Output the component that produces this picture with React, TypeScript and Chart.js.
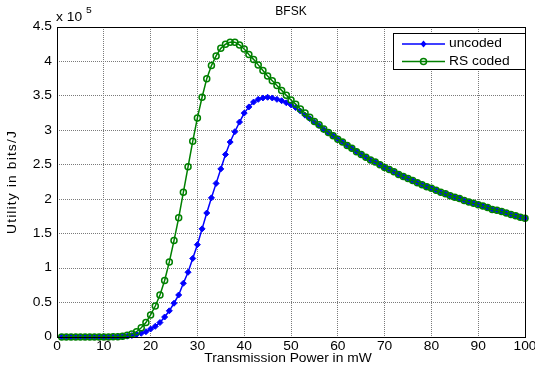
import React, { useEffect, useRef } from "react";
import { Chart, registerables } from "chart.js";

Chart.register(...registerables);

// Transmission power in mW (x categories)
const power: number[] = Array.from({ length: 100 }, (_, i) => i + 1);

// Utility (x 10^5 bits/J)
const uncoded: number[] = [
  0, 0, 0, 0, 0, 0, 0, 0, 0, 0,
  0, 0.001, 0.002, 0.005, 0.012, 0.022, 0.035, 0.054, 0.077, 0.116,
  0.155, 0.21, 0.29, 0.38, 0.49, 0.61, 0.78, 0.94, 1.14, 1.34,
  1.57, 1.8, 2.02, 2.23, 2.44, 2.65, 2.83, 2.98, 3.12, 3.25,
  3.34, 3.41, 3.45, 3.47, 3.48, 3.47, 3.45, 3.43, 3.4, 3.37,
  3.33, 3.28, 3.22, 3.17, 3.12, 3.07, 3.01, 2.96, 2.92, 2.87,
  2.83, 2.78, 2.74, 2.69, 2.65, 2.61, 2.57, 2.54, 2.5, 2.46,
  2.43, 2.4, 2.36, 2.33, 2.3, 2.27, 2.24, 2.21, 2.18, 2.16,
  2.13, 2.1, 2.08, 2.05, 2.03, 2.01, 1.98, 1.96, 1.94, 1.92,
  1.9, 1.88, 1.85, 1.84, 1.82, 1.8, 1.78, 1.76, 1.74, 1.725,
];

const rsCoded: number[] = [
  0, 0, 0, 0, 0, 0, 0, 0, 0, 0,
  0.001, 0.002, 0.005, 0.012, 0.025, 0.045, 0.077, 0.135, 0.21, 0.32,
  0.45, 0.61, 0.82, 1.09, 1.4, 1.73, 2.1, 2.47, 2.84, 3.18,
  3.48, 3.75, 3.94, 4.08, 4.19, 4.25, 4.28, 4.28, 4.24, 4.18,
  4.1, 4.03, 3.95, 3.87, 3.79, 3.72, 3.65, 3.58, 3.51, 3.44,
  3.38, 3.31, 3.25, 3.19, 3.13, 3.08, 3.02, 2.97, 2.92, 2.87,
  2.83, 2.78, 2.74, 2.69, 2.65, 2.61, 2.57, 2.54, 2.5, 2.46,
  2.43, 2.4, 2.36, 2.33, 2.3, 2.27, 2.24, 2.21, 2.18, 2.16,
  2.13, 2.1, 2.08, 2.05, 2.03, 2.01, 1.98, 1.96, 1.94, 1.92,
  1.9, 1.88, 1.85, 1.84, 1.82, 1.8, 1.78, 1.76, 1.74, 1.725,
];

const xTicks: number[] = [0, 10, 20, 30, 40, 50, 60, 70, 80, 90, 100];
const yTicks: number[] = [0, 0.5, 1, 1.5, 2, 2.5, 3, 3.5, 4, 4.5];
const seriesNames: string[] = ["uncoded", "RS coded"];
const titleText = "BFSK";
const xTitle = "Transmission Power in mW";
const yTitle = "Utility in bits/J";

const FONT = "Liberation Sans, Arial, Helvetica, sans-serif";
const BLUE = "#0000ff";
const GREEN = "#008000";
const SX = 1.15; // horizontal text stretch seen in the reference

function drawText(ctx: any, s: string, x: number, y: number, align: string, size: number, sx = SX, rot = 0, spacing = "0px") {
  ctx.save();
  ctx.translate(x, y);
  if (rot) ctx.rotate(rot);
  ctx.scale(sx, 1);
  ctx.font = `${size}px ${FONT}`;
  try { ctx.letterSpacing = spacing; } catch (e) {}
  ctx.textAlign = align;
  ctx.textBaseline = "middle";
  ctx.fillStyle = "#000";
  ctx.fillText(s, 0, 0);
  ctx.restore();
}

const decorPlugin = {
  id: "decor",
  afterDraw(chart: any) {
    const { ctx, chartArea, scales } = chart;
    const { left, right, top, bottom } = chartArea;
    ctx.save();
    // box
    ctx.strokeStyle = "#000";
    ctx.lineWidth = 1;
    ctx.strokeRect(Math.round(left) + 0.5, Math.round(top) + 0.5, Math.round(right - left), Math.round(bottom - top));

    // tick labels
    for (const v of xTicks) {
      drawText(ctx, String(v), scales.x.getPixelForValue(v), 347, "center", 12);
    }
    for (const v of yTicks) {
      drawText(ctx, String(v), 52, scales.y.getPixelForValue(v), "right", 12);
    }

    // title
    drawText(ctx, titleText, (left + right) / 2, 12, "center", 12, 1);
    // x title
    drawText(ctx, xTitle, (left + right) / 2 - 3, 359, "center", 12);
    // y title
    drawText(ctx, yTitle, 13, (top + bottom) / 2, "center", 12, SX, -Math.PI / 2, "1px");
    // multiplier
    drawText(ctx, "x 10", left - 1, 18, "left", 12);
    drawText(ctx, "5", left + 29, 11, "left", 9);

    // legend
    const lx = 393, ly = 33, lw = 132, lh = 36;
    ctx.fillStyle = "#fff";
    ctx.fillRect(lx, ly, lw, lh);
    ctx.strokeStyle = "#000";
    ctx.lineWidth = 1;
    ctx.strokeRect(lx + 0.5, ly + 0.5, lw, lh);
    const rows = [
      { y: 44, color: BLUE, name: seriesNames[0], marker: "diamond" },
      { y: 61.5, color: GREEN, name: seriesNames[1], marker: "circle" },
    ];
    for (const r of rows) {
      ctx.strokeStyle = r.color;
      ctx.lineWidth = 1.5;
      ctx.beginPath();
      ctx.moveTo(402, r.y);
      ctx.lineTo(445, r.y);
      ctx.stroke();
      const cx = 423.5;
      if (r.marker === "diamond") {
        ctx.fillStyle = r.color;
        ctx.beginPath();
        ctx.moveTo(cx, r.y - 3.5);
        ctx.lineTo(cx + 3, r.y);
        ctx.lineTo(cx, r.y + 3.5);
        ctx.lineTo(cx - 3, r.y);
        ctx.closePath();
        ctx.fill();
      } else {
        ctx.beginPath();
        ctx.arc(cx, r.y, 3, 0, Math.PI * 2);
        ctx.stroke();
      }
      drawText(ctx, r.name, 449, r.y, "left", 12);
    }
    ctx.restore();
  },
};

export default function App() {
  const ref = useRef<HTMLCanvasElement | null>(null);
  useEffect(() => {
    document.body.style.margin = "0";
    const canvas = ref.current!;
    const chart = new Chart(canvas, {
      type: "line",
      data: {
        datasets: [
          {
            label: seriesNames[0],
            data: power.map((p, i) => ({ x: p, y: uncoded[i] })),
            borderColor: BLUE,
            backgroundColor: BLUE,
            borderWidth: 1.5,
            pointStyle: "rectRot",
            pointRadius: 3,
            pointBorderWidth: 1,
            pointBorderColor: BLUE,
            pointBackgroundColor: BLUE,
            tension: 0,
            clip: false as any,
            order: 1,
          },
          {
            label: seriesNames[1],
            data: power.map((p, i) => ({ x: p, y: rsCoded[i] })),
            borderColor: GREEN,
            backgroundColor: "rgba(0,0,0,0)",
            borderWidth: 1.5,
            pointStyle: "circle",
            pointRadius: 3,
            pointBorderWidth: 1.5,
            pointBorderColor: GREEN,
            pointBackgroundColor: "rgba(0,0,0,0)",
            tension: 0,
            clip: false as any,
            order: 0,
          },
        ],
      },
      options: {
        responsive: false,
        animation: false,
        events: [],
        layout: { padding: { top: 27, right: 10, left: 0, bottom: 0 } },
        plugins: {
          legend: { display: false },
          title: { display: false },
          tooltip: { enabled: false },
        },
        scales: {
          x: {
            type: "linear",
            min: 0,
            max: 100,
            afterFit: (s: any) => { s.height = 33; },
            afterBuildTicks: (s: any) => { s.ticks = xTicks.map((v) => ({ value: v })); },
            grid: { color: "#7a7a7a", lineWidth: 1, drawTicks: false },
            border: { display: false, dash: [1, 1] },
            ticks: { display: false },
          },
          y: {
            type: "linear",
            min: 0,
            max: 4.5,
            afterFit: (s: any) => { s.width = 57; },
            afterBuildTicks: (s: any) => { s.ticks = yTicks.map((v) => ({ value: v })); },
            grid: { color: "#7a7a7a", lineWidth: 1, drawTicks: false },
            border: { display: false, dash: [1, 1] },
            ticks: { display: false },
          },
        },
      },
      plugins: [decorPlugin],
    });
    return () => chart.destroy();
  }, []);
  return (
    <div style={{ position: "fixed", left: 0, top: 0, width: 535, height: 370, background: "#fff" }}>
      <canvas ref={ref} width={535} height={370} style={{ width: 535, height: 370, display: "block" }} />
    </div>
  );
}
